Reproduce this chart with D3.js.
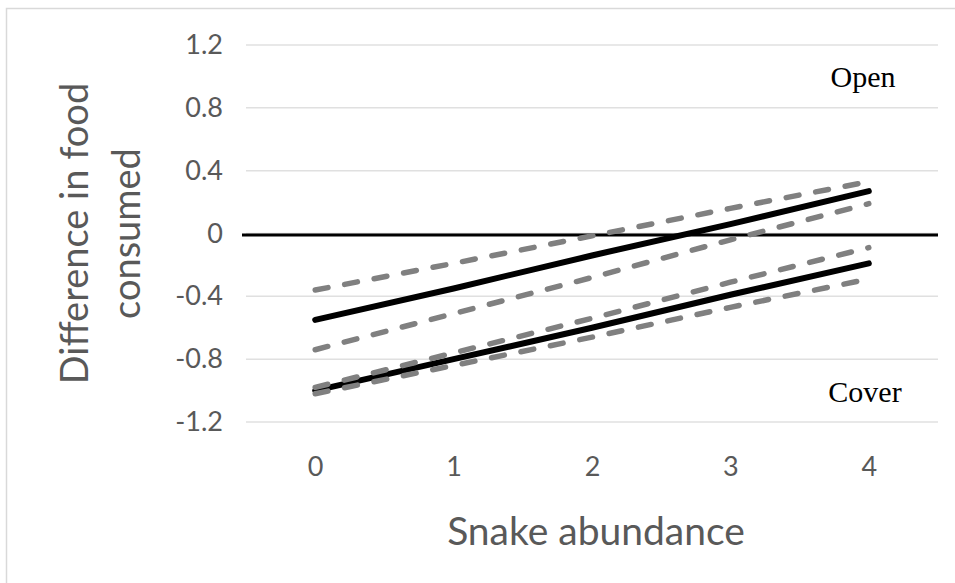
<!DOCTYPE html>
<html>
<head>
<meta charset="utf-8">
<script src="https://cdn.jsdelivr.net/npm/d3@7/dist/d3.min.js"></script>
<style>
  html, body { margin: 0; padding: 0; background: #fff; }
  svg { display: block; }
</style>
</head>
<body>
<svg id="chart" width="955" height="583"></svg>
<script>
// Snake abundance categories and y-axis ticks
const categories = ["0", "1", "2", "3", "4"];
const yTicks = [-1.2, -0.8, -0.4, 0, 0.4, 0.8, 1.2];

// Open habitat: fitted line with upper/lower bounds
const openFit   = [-0.55, -0.35, -0.14, 0.06, 0.27];
const openUpper = [-0.36, -0.19, -0.015, 0.16, 0.33];
const openLower = [-0.74, -0.51, -0.28, -0.04, 0.19];

// Cover habitat: fitted line with upper/lower bounds
const coverFit   = [-1.00, -0.80, -0.60, -0.39, -0.19];
const coverUpper = [-0.98, -0.76, -0.54, -0.31, -0.09];
const coverLower = [-1.02, -0.84, -0.66, -0.47, -0.29];

// Horizontal reference at zero
const referenceValue = 0;

const svg = d3.select("#chart");
const W = 955, H = 583;
const plot = { left: 246, right: 938, top: 45, bottom: 422 };

// chart frame
svg.append("rect")
  .attr("x", 6.5).attr("y", 8.5)
  .attr("width", W + 20).attr("height", H + 20)
  .attr("fill", "#fff").attr("stroke", "#d9d9d9").attr("stroke-width", 1.5);

const x = d3.scalePoint().domain(categories).range([plot.left, plot.right]).padding(0.5);
const y = d3.scaleLinear().domain([-1.2, 1.2]).range([plot.bottom, plot.top]);

const sans = "Lato, 'Open Sans', sans-serif";
const serif = "'Liberation Serif', 'DejaVu Serif', serif";
const textColor = "#595959";

// gridlines
svg.append("g")
  .selectAll("line")
  .data(yTicks)
  .join("line")
  .attr("x1", plot.left).attr("x2", plot.right)
  .attr("y1", d => y(d)).attr("y2", d => y(d))
  .attr("stroke", "#e0e0e0").attr("stroke-width", 1.5);

// y axis labels (plain hyphen for negatives)
const fmt = d => d === 0 ? "0" : d3.format(".1f")(d).replace("\u2212", "-");
const yAxis = svg.append("g")
  .attr("transform", `translate(${plot.left - 23},0)`)
  .call(d3.axisLeft(y).tickValues(yTicks).tickSize(0).tickPadding(0).tickFormat(fmt));
yAxis.select(".domain").remove();
yAxis.selectAll("text")
  .attr("font-family", sans).attr("font-size", 27).attr("fill", textColor);

// x axis labels
const xAxis = svg.append("g")
  .attr("transform", `translate(0,${plot.bottom})`)
  .call(d3.axisBottom(x).tickSize(0).tickPadding(35));
xAxis.select(".domain").remove();
xAxis.selectAll("text")
  .attr("font-family", sans).attr("font-size", 27).attr("fill", textColor);

// axis titles
svg.append("text")
  .attr("x", (plot.left + plot.right) / 2 + 4).attr("y", 545)
  .attr("text-anchor", "middle")
  .attr("font-family", sans).attr("font-size", 39).attr("fill", textColor)
  .text("Snake abundance");

const yTitle = svg.append("text")
  .attr("transform", `translate(88,${(plot.top + plot.bottom) / 2}) rotate(-90)`)
  .attr("text-anchor", "middle")
  .attr("font-family", sans).attr("font-size", 38).attr("fill", textColor);
yTitle.append("tspan").attr("x", 0).attr("dy", 0).text("Difference in food");
yTitle.append("tspan").attr("x", 0).attr("dy", 52).text("consumed");

// zero reference line
svg.append("line")
  .attr("x1", plot.left - 4).attr("x2", plot.right)
  .attr("y1", y(referenceValue) + 1.5).attr("y2", y(referenceValue) + 1.5)
  .attr("stroke", "#000").attr("stroke-width", 3);

const line = d3.line()
  .x((d, i) => x(categories[i]))
  .y(d => y(d));

const solidSeries = [openFit, coverFit];
const dashedSeries = [openUpper, openLower, coverUpper, coverLower];

svg.append("g")
  .selectAll("path")
  .data(solidSeries)
  .join("path")
  .attr("d", line)
  .attr("fill", "none")
  .attr("stroke", "#000")
  .attr("stroke-width", 6)
  .attr("stroke-linecap", "round");

svg.append("g")
  .selectAll("path")
  .data(dashedSeries)
  .join("path")
  .attr("d", line)
  .attr("fill", "none")
  .attr("stroke", "#808080")
  .attr("stroke-width", 5.5)
  .attr("stroke-linecap", "round")
  .attr("stroke-dasharray", "13,17");

// habitat labels
svg.append("text")
  .attr("x", 863).attr("y", 87)
  .attr("text-anchor", "middle")
  .attr("font-family", serif).attr("font-size", 30).attr("fill", "#000")
  .text("Open");
svg.append("text")
  .attr("x", 865).attr("y", 402)
  .attr("text-anchor", "middle")
  .attr("font-family", serif).attr("font-size", 30).attr("fill", "#000")
  .text("Cover");
</script>
</body>
</html>
